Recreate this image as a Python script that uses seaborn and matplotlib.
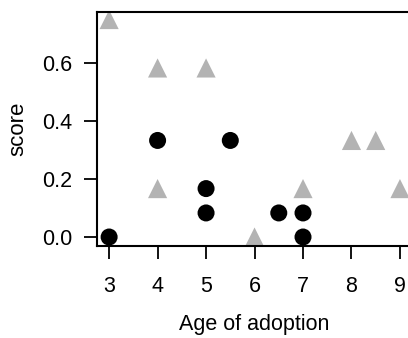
import matplotlib
matplotlib.use("Agg")
import matplotlib.pyplot as plt
import seaborn as sns
import pandas as pd

circle_age = [3, 4, 5, 5, 5.5, 6.5, 7, 7]
circle_score = [0.0, 0.333, 0.167, 0.083, 0.333, 0.083, 0.083, 0.0]
tri_age = [3, 4, 4, 5, 6, 7, 8, 8.5, 9]
tri_score = [0.75, 0.583, 0.167, 0.583, 0.0, 0.167, 0.333, 0.333, 0.167]
x_ticks = [3, 4, 5, 6, 7, 8, 9]
y_ticks = [0.0, 0.2, 0.4, 0.6]

df = pd.DataFrame({
    "age": circle_age + tri_age,
    "score": circle_score + tri_score,
    "group": ["circle"] * len(circle_age) + ["tri"] * len(tri_age),
})

sns.set_style("white")
plt.rcParams["font.family"] = ["Liberation Sans", "DejaVu Sans"]

fig = plt.figure(figsize=(4.08, 3.38), dpi=100)
ax = fig.add_axes([97 / 408, 1 - 246 / 338, (408 - 97) / 408 + 0.01, (246 - 12) / 338])

sns.scatterplot(data=df[df.group == "tri"], x="age", y="score", marker="^",
                color="#b3b3b3", s=190, edgecolor="none", ax=ax, legend=False, zorder=2)
sns.scatterplot(data=df[df.group == "circle"], x="age", y="score", marker="o",
                color="black", s=150, edgecolor="none", ax=ax, legend=False, zorder=3)

ax.set_xlim(2.75, 9.25)
ax.set_ylim(-0.031, 0.776)
ax.set_xticks(x_ticks)
ax.set_xticklabels([str(v) for v in x_ticks])
ax.set_yticks(y_ticks)
ax.set_yticklabels([f"{v:.1f}" for v in y_ticks])
for s in ["left", "top", "bottom", "right"]:
    ax.spines[s].set_color("black")
    ax.spines[s].set_linewidth(1.5)
ax.spines["right"].set_visible(False)
ax.tick_params(axis="both", direction="out", length=9.5, width=1.3, color="black",
               labelsize=15.5, left=True, bottom=True, labelcolor="black")
ax.tick_params(axis="x", pad=12)
ax.tick_params(axis="y", pad=8)
ax.set_xlabel("Age of adoption", fontsize=15.5, labelpad=12, color="black")
ax.set_ylabel("score", fontsize=16, labelpad=10, color="black")

fig.savefig("out.png", dpi=100)
